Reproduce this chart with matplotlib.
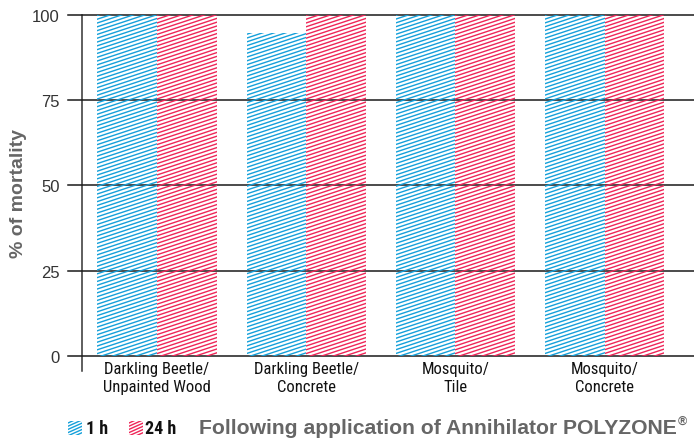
import numpy as np
import matplotlib
matplotlib.use("Agg")
import matplotlib.pyplot as plt
from matplotlib.patches import Rectangle
from matplotlib.collections import LineCollection
from matplotlib.transforms import IdentityTransform

categories = ["Darkling Beetle/\nUnpainted Wood", "Darkling Beetle/\nConcrete",
              "Mosquito/\nTile", "Mosquito/\nConcrete"]
one_h = [100, 94.7, 100, 100]
day = [100, 100, 100, 100]
yticks = [0, 25, 50, 75, 100]

BLUE = "#14a0da"
RED = "#ee2658"

W, H = 694, 439
fig = plt.figure(figsize=(W / 100, H / 100), dpi=100)
ax = fig.add_axes([82 / W, 67 / H, 612 / W, 356 / H])
ax.set_xlim(-0.503, 3.6)
ax.set_ylim(-4.4, 100)


def hatch(patch, color, spacing=3.8, slope=0.33, lw=1.0):
    # draw shallow diagonal lines in pixels, clipped to the patch
    bb = patch.get_window_extent()
    x0, x1 = bb.x0 - 2, bb.x1 + 2
    y0, y1 = bb.y0, bb.y1
    span = slope * (x1 - x0)
    segs = []
    for c in np.arange(y0 - span - spacing, y1 + spacing, spacing):
        segs.append([(x0, c), (x1, c + span)])
    lc = LineCollection(segs, colors=color, linewidths=lw,
                        transform=IdentityTransform())
    fig.add_artist(lc)
    lc.set_clip_path(patch)


x = np.arange(len(categories))
w = 0.4
b1 = ax.bar(x - w / 2, one_h, w, color="none", edgecolor="none")
b2 = ax.bar(x + w / 2, day, w, color="none", edgecolor="none")
fig.canvas.draw()
for p in b1:
    hatch(p, BLUE)
for p in b2:
    hatch(p, RED)

for t in yticks:
    ax.axhline(t, xmin=-0.023, xmax=1, color="#1a1a1a", lw=1.1, clip_on=False, zorder=3)

for s in ["top", "right", "bottom"]:
    ax.spines[s].set_visible(False)
ax.spines["left"].set_color("#333333")
ax.spines["left"].set_linewidth(1.1)
ax.tick_params(axis="both", length=0)
ax.set_yticks(yticks)
ax.set_yticklabels([str(t) for t in yticks], fontsize=12, color="#333333",
                   family="Liberation Sans")
ax.tick_params(axis="y", pad=16)
ax.set_xticks(x)
ax.set_xticklabels(categories, fontsize=12, family="Roboto Condensed",
                   color="#111111", linespacing=1.25)
ax.tick_params(axis="x", pad=-7)
ax.set_ylabel("% of mortality", fontsize=14, fontweight="bold", color="#666666",
              family="Liberation Sans")
ax.yaxis.set_label_coords(-0.09, 0.5)

# legend row along the bottom
for xp, col, lab, tx in [(68, BLUE, "1 h", 86), (129, RED, "24 h", 145)]:
    r = Rectangle((xp / W, 3 / H), 14 / W, 14 / H, transform=fig.transFigure,
                  facecolor="none", edgecolor="none")
    fig.add_artist(r)
    fig.canvas.draw()
    hatch(r, col, spacing=3.2, slope=0.45, lw=1.0)
    fig.text(tx / W, 10 / H, lab, fontsize=13, fontweight="bold",
             family="Roboto Condensed", color="#111111", va="center")
title = fig.text(199 / W, 10 / H, "Following application of Annihilator POLYZONE",
                 fontsize=15.2, fontweight="bold", family="Liberation Sans",
                 color="#666666", va="center")
fig.canvas.draw()
tb = title.get_window_extent()
fig.text((tb.x1 + 1) / W, 17 / H, "\u00ae", fontsize=9, fontweight="bold",
         family="Liberation Sans", color="#666666", va="center")

fig.savefig("out.png", dpi=100)
